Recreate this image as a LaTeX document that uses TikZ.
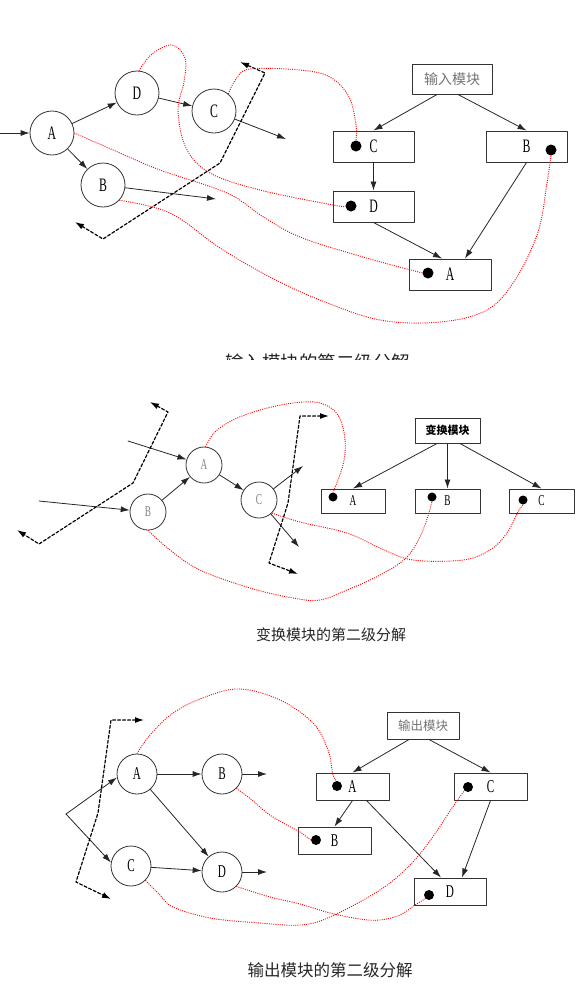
\documentclass[tikz,border=0pt]{standalone}
\usepackage{fontspec}
\newfontfamily\cjk{Noto Sans CJK SC}
\newfontfamily\lbl[FakeStretch=0.62]{Liberation Serif}
\usetikzlibrary{arrows.meta,calc}

\begin{document}
\begin{tikzpicture}[
  x=1pt, y=-1pt,
  line cap=round,
  line join=round,
  link/.style={-{Latex[length=9pt,width=6pt]}, line width=0.8pt, draw=black!85},
  rlink/.style={draw=red, line width=0.9pt, line cap=butt, dash pattern=on 1pt off 1.2pt},
  dlink/.style={{Latex[length=9pt,width=6pt]}-{Latex[length=9pt,width=6pt]}, line width=1.2pt, dash pattern=on 3pt off 2pt},
  ball/.style={circle, draw=black!80, line width=0.8pt, inner sep=0pt},
  blk/.style={rectangle, draw=black!80, line width=1pt, inner sep=0pt},
  blob/.style={circle, fill=black, inner sep=0pt, minimum size=#1},
  blob/.default=10pt,
  big/.style={font=\lbl\fontsize{19}{19}\selectfont},
  mid/.style={font=\lbl\fontsize{15}{15}\selectfont},
  low/.style={font=\lbl\fontsize{18}{18}\selectfont},
  title/.style={inner sep=0pt, text=black!85}
]

\useasboundingbox (0,0) rectangle (583,986);

% --- Top: input module ---
\coordinate (tin) at (0,133);
\coordinate (tCo) at (286,139);
\coordinate (tBo) at (216,199);
\node[ball, big, minimum size=44] (tA) at (52,133)  {A};
\node[ball, big, minimum size=44] (tD) at (137,93)  {D};
\node[ball, big, minimum size=44] (tC) at (214,111) {C};
\node[ball, big, minimum size=44] (tB) at (103,185) {B};

\draw[link] (tin) -- (tA);
\draw[link] (tA) -- (tD);
\draw[link] (tD) -- (tC);
\draw[link] (tA) -- (tB);
\draw[link] (tC) -- (tCo);
\draw[link] (tB) -- (tBo);

% dashed cut line
\coordinate (td1) at (75,222);
\coordinate (td2) at (103,239);
\coordinate (td3) at (220,163);
\coordinate (td4) at (265,73);
\coordinate (td5) at (240,62);
\draw[dlink] (td1) -- (td2) -- (td3) -- (td4) -- (td5);

% module tree
\node[blk, minimum width=80, minimum height=30, text=black!55,
      font=\cjk\fontsize{14}{14}\selectfont] (tM) at (452,79) {输入模块};
\node[blk, big, minimum width=81, minimum height=31] (tbC) at (373.5,146.5) {C};
\node[blk, big, minimum width=81, minimum height=31] (tbB) at (526.5,146.5) {B};
\node[blk, big, minimum width=81, minimum height=31] (tbD) at (373.5,206.5) {D};
\node[blk, big, minimum width=82, minimum height=31] (tbA) at (450,274.5)   {A};
\node[blob=11pt] (tdC) at (356,146) {};
\node[blob=11pt] (tdB) at (551,150) {};
\node[blob=11pt] (tdD) at (351,206) {};
\node[blob=11pt] (tdA) at (428,273) {};

\draw[link] ($(tM.south)+(-15,0)$) -- (tbC.north);
\draw[link] ($(tM.south)+(6,0)$) -- (tbB.north);
\draw[link] (tbC) -- (tbD);
\draw[link] (tbD.south) -- ($(tbA.north)+(-8,0)$);
\draw[link] (tbB.south) -- ($(tbA.north)+(15,0)$);

% red links: circle -> box
\draw[rlink] plot[smooth, tension=0.6] coordinates {(tD.85) (152,54) (172,45) (185,58) (184,82) (178,110)
  (186,148) (210,173) (260,190) (333,205) (tdD.west)};
\draw[rlink] plot[smooth, tension=0.6] coordinates {(tC.50) (236,79) (250,69) (300,70) (330,77)
  (349,97) (356,125) (tdC.north)};
\draw[rlink] plot[smooth, tension=0.6] coordinates {(tA.east) (120,153) (160,170) (227,193) (262,216)
  (300,237) (363,257) (tdA.west)};
\draw[rlink] plot[smooth, tension=0.6] coordinates {(tB.-43) (170,213) (220,248) (270,277) (320,300)
  (380,320) (440,322) (487,310) (515,280) (538,232) (547,183) (tdB.south)};

\begin{scope}
  \clip (0,0) rectangle (583,359.5);
  \node[title, anchor=north, font=\cjk\fontsize{18.5}{18.5}\selectfont] (tcap) at (317.5,354) {输入模块的第二级分解};
\end{scope}

% --- Middle: transform module ---
\coordinate (mAin) at (128,441);
\coordinate (mBin) at (39,501);
\coordinate (mCo1) at (303,466);
\coordinate (mCo2) at (299,547);
\node[ball, mid, text=black!50, minimum size=36] (mA) at (204,465) {A};
\node[ball, mid, text=black!50, minimum size=36] (mB) at (148,512) {B};
\node[ball, mid, text=black!50, minimum size=36] (mC) at (259,500) {C};

\draw[link] (mAin) -- (mA);
\draw[link] (mBin) -- (mB);
\draw[link] (mB) -- (mA);
\draw[link] (mA) -- (mC);
\draw[link] (mC) -- (mCo1);
\draw[link] (mC) -- (mCo2);

\coordinate (md1) at (150,402);
\coordinate (md2) at (168,412);
\coordinate (md3) at (133,483);
\coordinate (md4) at (39,544);
\coordinate (md5) at (17,530);
\draw[dlink] (md1) -- (md2) -- (md3) -- (md4) -- (md5);
\coordinate (mr1) at (329,416);
\coordinate (mr2) at (300,416);
\coordinate (mr3) at (288,503);
\coordinate (mr4) at (269,563);
\coordinate (mr5) at (298,574);
\draw[dlink] (mr1) -- (mr2) -- (mr3) -- (mr4) -- (mr5);

\node[blk, minimum width=65, minimum height=25,
      font=\cjk\bfseries\fontsize{11}{11}\selectfont] (mM) at (447.5,430.5) {变换模块};
\node[blk, mid, minimum width=64, minimum height=24] (mbA) at (353,501)   {A};
\node[blk, mid, minimum width=65, minimum height=24] (mbB) at (447.5,501) {B};
\node[blk, mid, minimum width=65, minimum height=24] (mbC) at (541.5,501) {C};
\node[blob=9pt] (mdA) at (333,497) {};
\node[blob=9pt] (mdB) at (432,497) {};
\node[blob=9pt] (mdC) at (523,500) {};

\draw[link] ($(mM.south)+(-10.5,0)$) -- (mbA.north);
\draw[link] (mM.south) -- (mbB.north);
\draw[link] ($(mM.south)+(12.5,0)$) -- (mbC.north);

\draw[rlink] plot[smooth, tension=0.6] coordinates {(mA.85) (215,432) (233,420) (260,410) (293,403)
  (320,403) (338,415) (345,440) (343,465) (mdA.north)};
\draw[rlink] plot[smooth, tension=0.6] coordinates {(mB.south) (170,550) (200,570) (250,588) (293,598)
  (320,600) (347,590) (380,575) (407,557) (423,530) (mdB.south)};
\draw[rlink] plot[smooth, tension=0.6] coordinates {(mC.-45) (300,522) (347,533) (380,548) (413,560)
  (463,560) (490,550) (507,533) (518,512) (mdC.south)};

\node[title, font=\cjk\fontsize{15}{15}\selectfont] (mcap) at (331,635) {变换模块的第二级分解};

% --- Bottom: output module ---
\coordinate (bin) at (66,814);
\coordinate (bBo) at (267,774);
\coordinate (bDo) at (267,872);
\node[ball, low, minimum size=40] (bA) at (137,774) {A};
\node[ball, low, minimum size=40] (bB) at (222,774) {B};
\node[ball, low, minimum size=40] (bC) at (131,866) {C};
\node[ball, low, minimum size=40] (bD) at (222,872) {D};

\draw[link] (bin) -- (bA.190);
\draw[link] (bin) -- (bC.170);
\draw[link] (bA) -- (bB);
\draw[link] (bB) -- (bBo);
\draw[link] (bA) -- (bD);
\draw[link] (bC) -- (bD);
\draw[link] (bD) -- (bDo);

\coordinate (bd1) at (144,720);
\coordinate (bd2) at (111,720);
\coordinate (bd3) at (98,813);
\coordinate (bd4) at (76,882);
\coordinate (bd5) at (111,899);
\draw[dlink] (bd1) -- (bd2) -- (bd3) -- (bd4) -- (bd5);

\node[blk, minimum width=72, minimum height=27, text=black!55,
      font=\cjk\fontsize{12.5}{12.5}\selectfont] (bM) at (423,725.5) {输出模块};
\node[blk, low, minimum width=73, minimum height=27] (bbA) at (352.5,786.5) {A};
\node[blk, low, minimum width=73, minimum height=27] (bbC) at (490.5,786.5) {C};
\node[blk, low, minimum width=73, minimum height=27] (bbB) at (334.5,840.5) {B};
\node[blk, low, minimum width=72, minimum height=27] (bbD) at (450,891.5)   {D};
\node[blob] (bdA) at (337,786) {};
\node[blob] (bdC) at (468,787) {};
\node[blob] (bdB) at (316,840) {};
\node[blob] (bdD) at (429,895) {};

\draw[link] ($(bM.south)+(-14,0)$) -- (bbA.north);
\draw[link] ($(bM.south)+(6,0)$) -- (bbC.north);
\draw[link] (bbA.south) -- (bbB.north);
\draw[link] ($(bbA.south)+(14,0)$) -- ($(bbD.north)+(-9,0)$);
\draw[link] (bbC.south) -- ($(bbD.north)+(12,0)$);

\draw[rlink] plot[smooth, tension=0.6] coordinates {(bA.north) (150,735) (173,713) (205,697) (240,689)
  (280,700) (313,723) (328,750) (333,775) (bdA.north)};
\draw[rlink] plot[smooth, tension=0.6] coordinates {(bB.-45) (252,800) (267,813) (285,824) (300,832) (bdB.west)};
\draw[rlink] plot[smooth, tension=0.6] coordinates {(bC.-45) (160,895) (173,907) (210,918) (260,923)
  (300,925) (330,917) (380,890) (410,865) (432,838) (452,808) (bdC.-135)};
\draw[rlink] plot[smooth, tension=0.6] coordinates {(bD.-45) (270,897) (300,904) (330,913) (360,919)
  (380,920) (400,915) (415,905) (bdD.-135)};

\node[title, font=\cjk\fontsize{16.5}{16.5}\selectfont] (bcap) at (330,970.5) {输出模块的第二级分解};
\end{tikzpicture}
\end{document}
